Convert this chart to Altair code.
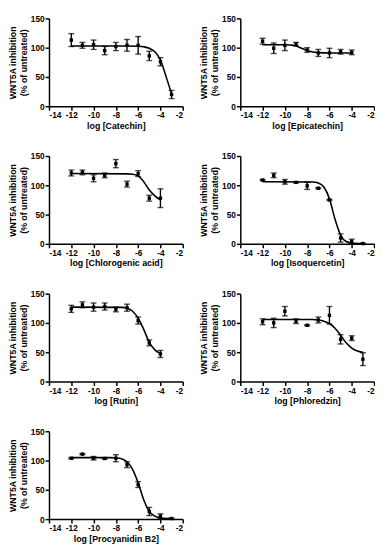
import altair as alt
import pandas as pd

# ---- data ----
names = ["Catechin", "Epicatechin", "Chlorogenic acid", "Isoquercetin",
         "Rutin", "Phloredzin", "Procyanidin B2"]

cat_x = [-12, -11, -10, -9, -8, -7, -6, -5, -4, -3]
cat_y = [113, 104, 105, 95, 102, 104, 104, 86, 76, 20]
cat_e = [11, 5, 8, 7, 7, 10, 15, 8, 7, 7]
cat_cx = [-12, -7, -6, -5.5, -5, -4.5, -4, -3.5, -3]
cat_cy = [103, 103, 102.5, 101.5, 99, 93, 79, 51, 21]

epi_x = [-12, -11, -10, -9, -8, -7, -6, -5, -4]
epi_y = [111, 99, 104, 106, 96, 91, 91, 93, 92]
epi_e = [5, 9, 9, 3, 4, 6, 8, 4, 4]
epi_cx = [-12, -10, -9.5, -9, -8.5, -8, -7.5, -7, -6, -4]
epi_cy = [105, 105, 104.5, 103, 99, 95, 92.5, 91.5, 91, 91]

chl_x = [-12, -11, -10, -9, -8, -7, -6, -5, -4]
chl_y = [121, 122, 112, 117, 137, 102, 120, 78, 78]
chl_e = [5, 4, 6, 4, 7, 5, 5, 5, 16]
chl_cx = [-12, -7, -6.5, -6, -5.5, -5, -4.5, -4]
chl_cy = [120, 119.5, 119, 116, 106, 92, 82, 75]

iso_x = [-12, -11, -10, -9, -8, -7, -6, -5, -4, -3]
iso_y = [109, 117, 106, 105, 99, 95, 75, 10, 4, 0.5]
iso_e = [1, 4, 4, 1, 6, 1, 1, 7, 4, 0.5]
iso_cx = [-12, -7.5, -7, -6.5, -6, -5.5, -5, -4.5, -4, -3]
iso_cy = [106, 105.5, 104, 97, 77, 42, 15, 4, 1.5, 0.5]

rut_x = [-12, -11, -10, -9, -8, -7, -6, -5, -4]
rut_y = [124, 131, 127, 128, 123, 126, 104, 66, 47]
rut_e = [6, 5, 7, 6, 4, 6, 6, 5, 6]
rut_cx = [-12, -7.5, -7, -6.5, -6, -5.5, -5, -4.5, -4]
rut_cy = [127, 126.5, 125, 120, 108, 89, 67, 54, 48]

phl_x = [-12, -11, -10, -9, -8, -7, -6, -5, -4, -3]
phl_y = [102, 100, 120, 103, 96, 105, 113, 72, 74, 38]
phl_e = [5, 8, 8, 4, 1, 5, 15, 8, 4, 11]
phl_cx = [-12, -7.5, -7, -6.5, -6, -5.5, -5, -4.5, -4, -3.5, -3]
phl_cy = [106, 106, 105, 103, 99, 91, 79, 66, 57, 52, 50]

pro_x = [-12, -11, -10, -9, -8, -7, -6, -5, -4, -3]
pro_y = [104, 111, 104, 103.5, 104, 93, 59, 13, 5, 1]
pro_e = [1, 1, 3, 1, 6, 5, 5, 7, 4, 1]
pro_cx = [-12, -8.5, -8, -7.5, -7, -6.5, -6, -5.5, -5, -4.5, -4, -3]
pro_cy = [105, 105, 104.5, 103, 98, 85, 62, 33, 13, 5, 2, 1]

series = [
    (cat_x, cat_y, cat_e, cat_cx, cat_cy),
    (epi_x, epi_y, epi_e, epi_cx, epi_cy),
    (chl_x, chl_y, chl_e, chl_cx, chl_cy),
    (iso_x, iso_y, iso_e, iso_cx, iso_cy),
    (rut_x, rut_y, rut_e, rut_cx, rut_cy),
    (phl_x, phl_y, phl_e, phl_cx, phl_cy),
    (pro_x, pro_y, pro_e, pro_cx, pro_cy),
]

x_ticks = [-14, -12, -10, -8, -6, -4, -2]
y_ticks = [0, 50, 100, 150]

W, H = 137, 90


def panel(name, xs, ys, es, cxs, cys):
    pts = pd.DataFrame({"x": xs, "y": ys,
                        "lo": [a - b for a, b in zip(ys, es)],
                        "hi": [a + b for a, b in zip(ys, es)]})
    crv = pd.DataFrame({"x": cxs, "y": cys})
    xsc = alt.Scale(domain=[-14, -2], nice=False, zero=False)
    ysc = alt.Scale(domain=[0, 150], nice=False)
    xax = alt.Axis(values=x_ticks, title=f"log [{name}]",
                   labelExpr="'' + datum.value")
    yax = alt.Axis(values=y_ticks, title=["WNT5A inhibition", "(% of untreated)"])
    X = alt.X("x:Q", scale=xsc, axis=xax)
    Y = alt.Y("y:Q", scale=ysc, axis=yax)
    line = alt.Chart(crv).mark_line(color="black", strokeWidth=1.6,
                                    interpolate="monotone").encode(x=X, y=Y)
    bars = alt.Chart(pts).mark_rule(color="black", strokeWidth=1.4).encode(
        x=X, y=alt.Y("lo:Q", scale=ysc, axis=yax), y2="hi:Q")
    caplo = alt.Chart(pts).mark_tick(color="black", thickness=1.4, size=6,
                                     orient="horizontal").encode(
        x=X, y=alt.Y("lo:Q", scale=ysc, axis=yax))
    caphi = alt.Chart(pts).mark_tick(color="black", thickness=1.4, size=6,
                                     orient="horizontal").encode(
        x=X, y=alt.Y("hi:Q", scale=ysc, axis=yax))
    dots = alt.Chart(pts).mark_point(shape="square", filled=True, color="black",
                                     size=12, opacity=1).encode(x=X, y=Y)
    return alt.layer(line, bars, caplo, caphi, dots).properties(width=W, height=H)


panels = [panel(n, *s) for n, s in zip(names, series)]

rows = [
    alt.hconcat(panels[0], panels[1], spacing=16),
    alt.hconcat(panels[2], panels[3], spacing=16),
    alt.hconcat(panels[4], panels[5], spacing=16),
    alt.hconcat(panels[6], spacing=16),
]

chart = alt.vconcat(*rows, spacing=22).properties(
    padding={"left": 0, "top": 0, "right": 0, "bottom": 0},
    background="white"
).configure_view(stroke=None).configure_axis(
    grid=False,
    domainColor="black", domainWidth=1.5,
    tickColor="black", tickWidth=1.5, tickSize=4,
    labelFont="Liberation Sans", labelFontWeight="bold", labelFontSize=8.5,
    labelColor="black", labelPadding=1,
    titleFont="Liberation Sans", titleFontWeight="bold", titleFontSize=9,
    titleColor="black",
).configure_axisY(titlePadding=2, labelPadding=1, titleLineHeight=11).configure_axisX(titlePadding=2)

chart.save("out.html", embed_options={"renderer": "svg", "actions": False})
